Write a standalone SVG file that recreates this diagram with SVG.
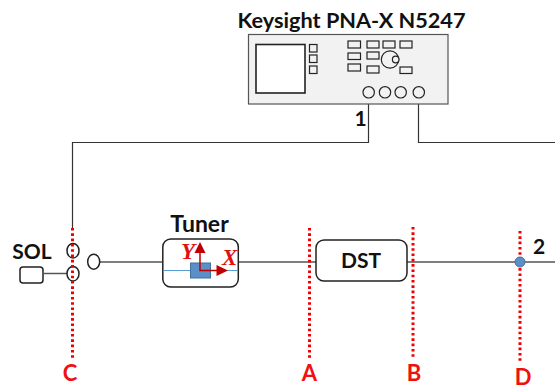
<svg xmlns="http://www.w3.org/2000/svg" width="555" height="385" viewBox="0 0 555 385">
<style>
text{font-family:Lato,"Open Sans","Liberation Sans",sans-serif;font-weight:700;fill:#111}
.lbl{font-size:21px}
.red{font-size:22px;fill:#f01010}
.ax{font-family:"Liberation Serif",serif;font-style:italic;font-size:23px;fill:#e01010}
.w{fill:none;stroke:#222;stroke-width:1.5}
.k{fill:#f2f2f2;stroke:#222;stroke-width:1.2}
.c{fill:none;stroke:#333;stroke-width:1.2}
.g{fill:none;stroke:#555;stroke-width:1.5}
.dot{fill:none;stroke:#f00000;stroke-width:3;stroke-dasharray:2.6 2.7}
.ar{fill:none;stroke:#c00000;stroke-width:1.5}
.ah{fill:#c00000}
</style>
<rect width="555" height="385" fill="#fff"/>
<g id="connectors">
<path class="c" d="M368.500 98V142.500H72.500V228"/>
<path class="c" d="M418.500 98V142.500H555"/>
<path class="g" d="M44 273.500H67"/>
<path class="g" d="M100 262H163"/>
<path class="g" d="M239 262H316"/>
<path class="g" d="M407 262H555"/>
</g>
<g id="analyzer">
<rect x="248.500" y="34.500" width="199.500" height="69.500" fill="#f2f2f2" stroke="#555" stroke-width="1.2"/>
<rect x="256" y="44.500" width="49" height="48.500" fill="#fff" stroke="#222" stroke-width="1.6"/>
<rect class="k" x="309.500" y="44.500" width="7.500" height="7.500"/>
<rect class="k" x="309.500" y="55" width="7.500" height="7.500"/>
<rect class="k" x="309.500" y="66" width="7.500" height="7.500"/>
<rect class="k" x="348" y="41" width="12.500" height="7"/>
<rect class="k" x="367" y="41" width="12" height="7"/>
<rect class="k" x="383" y="41" width="12" height="7"/>
<rect class="k" x="400" y="41" width="12" height="7"/>
<rect class="k" x="348" y="53" width="12.500" height="6.500"/>
<rect class="k" x="367" y="52" width="12" height="7"/>
<rect class="k" x="348" y="64" width="12.500" height="7"/>
<rect class="k" x="367" y="66" width="12" height="7"/>
<rect class="k" x="400" y="67" width="12" height="6.500"/>
<circle class="k" cx="390" cy="59.500" r="8.700"/>
<circle class="k" cx="395.700" cy="59.500" r="3.300"/>
<circle class="k" cx="368.700" cy="92.300" r="5.700"/>
<circle class="k" cx="385" cy="92.300" r="5.700"/>
<circle class="k" cx="400.700" cy="92.300" r="5.700"/>
<circle class="k" cx="418.800" cy="92.300" r="5.700"/>
<text x="351.500" y="28" text-anchor="middle" font-size="21.700">Keysight PNA-X N5247</text>
<text class="lbl" x="360.500" y="126" text-anchor="middle">1</text>
</g>
<g id="sol">
<rect x="20" y="267" width="23" height="16" rx="3" fill="#fff" stroke="#222" stroke-width="1.5"/>
<text class="lbl" x="32" y="259" text-anchor="middle">SOL</text>
</g>
<g id="switch">
<ellipse class="w" cx="73" cy="250.700" rx="6" ry="7.300"/>
<ellipse class="w" cx="73" cy="273.700" rx="6" ry="7.300"/>
<ellipse class="w" cx="93.700" cy="261.700" rx="6" ry="7.500"/>
</g>
<g id="tuner">
<rect x="162.800" y="239" width="75.500" height="48" rx="8" fill="#fff" stroke="#222" stroke-width="1.5"/>
<path d="M164 270.500H238" stroke="#5b9bd5" stroke-width="1.2" fill="none"/>
<rect x="190.500" y="263" width="20" height="15" fill="#5b8fc7" stroke="#41719c"/>
<path class="ar" d="M200 250V270.500H218"/>
<path class="ah" d="M194.500 253L200 242L205.500 253Z"/>
<path class="ah" d="M216.500 265L228 270.500L216.500 276Z"/>
<text class="ax" x="181" y="259">Y</text>
<text class="ax" x="222" y="265">X</text>
<text x="199.500" y="232" text-anchor="middle" font-size="23">Tuner</text>
</g>
<g id="dst">
<rect x="316" y="240" width="91" height="41" rx="8" fill="#fff" stroke="#222" stroke-width="1.5"/>
<text class="lbl" x="361" y="268" text-anchor="middle">DST</text>
</g>
<g id="c-plane">
<path class="dot" d="M72.500 228V358"/>
<text class="red" x="70" y="381" text-anchor="middle">C</text>
</g>
<g id="a-plane">
<path class="dot" d="M309.500 228V358"/>
<text class="red" x="309.500" y="381" text-anchor="middle">A</text>
</g>
<g id="b-plane">
<path class="dot" d="M413 227V358"/>
<text class="red" x="414" y="381" text-anchor="middle">B</text>
</g>
<g id="d-plane">
<path class="dot" d="M520 231V363"/>
<circle cx="520" cy="262" r="5" fill="#5b8fc7" stroke="#41719c"/>
<text class="red" x="523" y="385" text-anchor="middle">D</text>
<text class="lbl" x="539" y="254" text-anchor="middle">2</text>
</g>
</svg>
